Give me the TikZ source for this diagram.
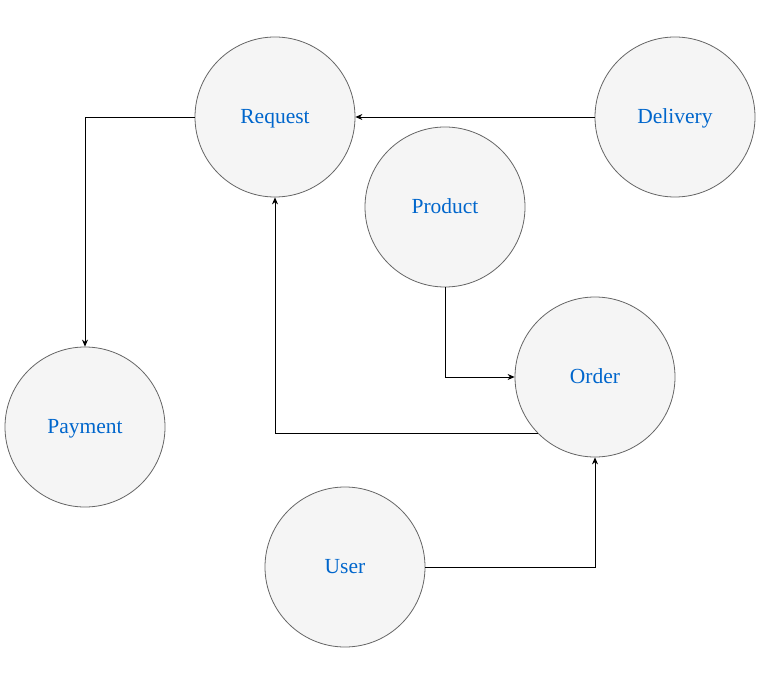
\documentclass[tikz,border=0pt]{standalone}
\usepackage{fontspec}
\setmainfont{Liberation Serif}
\usetikzlibrary{arrows.meta}
\definecolor{nodefill}{HTML}{F5F5F5}
\definecolor{nodeline}{HTML}{666666}
\definecolor{nodetext}{HTML}{0066CC}
\newcommand\entfont{\fontsize{21.5}{25}\selectfont}
\tikzset{
  ent/.style={circle,draw=nodeline,fill=nodefill,line width=0.8pt,minimum size=160pt,inner sep=0pt,
    text=nodetext,font=\entfont,text height=15pt,text depth=2.5pt},
  conn/.style={draw=black,line width=0.8pt,-{Stealth[length=7pt,width=6pt]}}}
\begin{document}
\begin{tikzpicture}[x=1pt,y=-1pt]
\useasboundingbox (0,0) rectangle (773,676);
\node[ent] (req) at (275,117) {Request};
\node[ent] (del) at (675,117) {Delivery};
\node[ent] (prod) at (445,207) {Product};
\node[ent] (ord) at (595,377) {Order};
\node[ent] (pay) at (85,427) {Payment};
\node[ent] (user) at (345,567) {User};
\coordinate (ordout) at (537.9,433.5);
\draw[conn] (req.west) -| (pay.north);
\draw[conn] (del.west) -- (req.east);
\draw[conn] (prod.south) |- (ord.west);
\draw[conn] (ordout) -| (req.south);
\draw[conn] (user.east) -| (ord.south);
\end{tikzpicture}
\end{document}
